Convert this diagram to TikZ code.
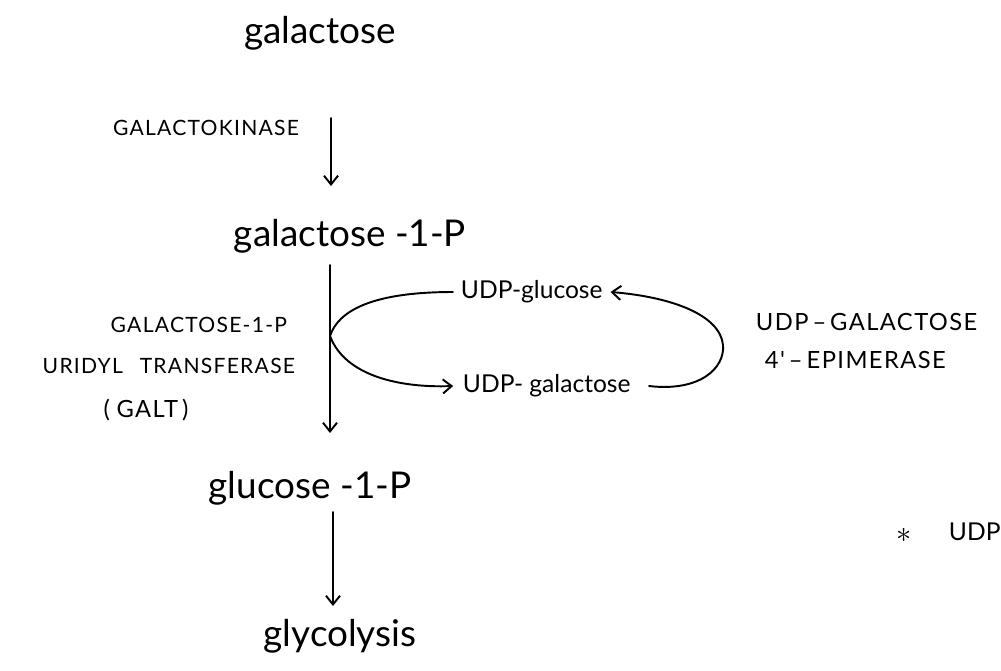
\documentclass[tikz,border=0pt]{standalone}
\usepackage{fontspec}
\setmainfont{Lato}
\newfontfamily\capsfont[LetterSpace=6]{Lato}
\usetikzlibrary{arrows.meta}
\begin{document}
\begin{tikzpicture}[>={Straight Barb[length=5pt,width=8pt]},line join=round,line cap=round,x=0.02cm,y=-0.02cm,
	line width=1.1pt,
	big/.style={font=\fontsize{21}{24}\selectfont,inner sep=0pt},
	small/.style={font=\capsfont\fontsize{12}{14}\selectfont,inner sep=0pt},
	mid/.style={font=\fontsize{14}{16}\selectfont,inner sep=0pt},
	midcaps/.style={font=\capsfont\fontsize{13.5}{16}\selectfont,inner sep=0pt}]
			\useasboundingbox (0,0) rectangle (1001,670);
			\path 
			(331,118) coordinate (a1) (331,186) coordinate (b1)
			(330,265) coordinate (a2) (330,433) coordinate (b2)
			(333,512) coordinate (a3) (333,606) coordinate (b3)
			(330,336) coordinate (B)
			;
			% main chain
			\node[big] (galactose) at (320,33) {galactose};
			\node[big] (galP) at (350,236) {galactose -1-P};
			\node[big] (glucP) at (310,488) {glucose -1-P};
			\node[big] (glycolysis) at (340,636) {glycolysis};
			\draw[->] (a1) -- (b1);
			\draw[->] (a2) -- (b2);
			\draw[->] (a3) -- (b3);
			% enzymes
			\node[small,anchor=east] (kinase) at (300,128) {GALACTOKINASE};
			\node[small,anchor=east] (galt1) at (288,325) {GALACTOSE-1-P};
			\node[small,anchor=east] (galt2) at (296,366) {URIDYL\hspace{0.8em}TRANSFERASE};
			\node[midcaps] (galt3) at (146,410) {(\;GALT\,)};
			\node[midcaps,anchor=west] (epi1) at (755,322) {UDP\,\textendash\,GALACTOSE};
			\node[midcaps,anchor=west] (epi2) at (764,360) {4'\,\textendash\,EPIMERASE};
			% side loop
			\node[mid,anchor=west] (udpglc) at (460,292) {UDP-glucose};
			\node[mid,anchor=west] (udpgal) at (462,386) {UDP- galactose};
			\draw (B) .. controls (342,300) and (400,292) .. ([xshift=-4]udpglc.west);
			\draw[->] (B) .. controls (345,376) and (400,388) .. ([xshift=-5]udpgal.west);
			\draw[->] ([xshift=10]udpgal.east) .. controls (700,392) and (725,368) .. (723,345)
			.. controls (720,315) and (672,297) .. ([xshift=4]udpglc.east);
			% note
			\node[font=\fontsize{18}{20}\selectfont,inner sep=0pt] (star) at (904,535) {$\ast$};
			\node[mid,anchor=west] (note) at (948,532) {UDP};
	\end{tikzpicture}
\end{document}
